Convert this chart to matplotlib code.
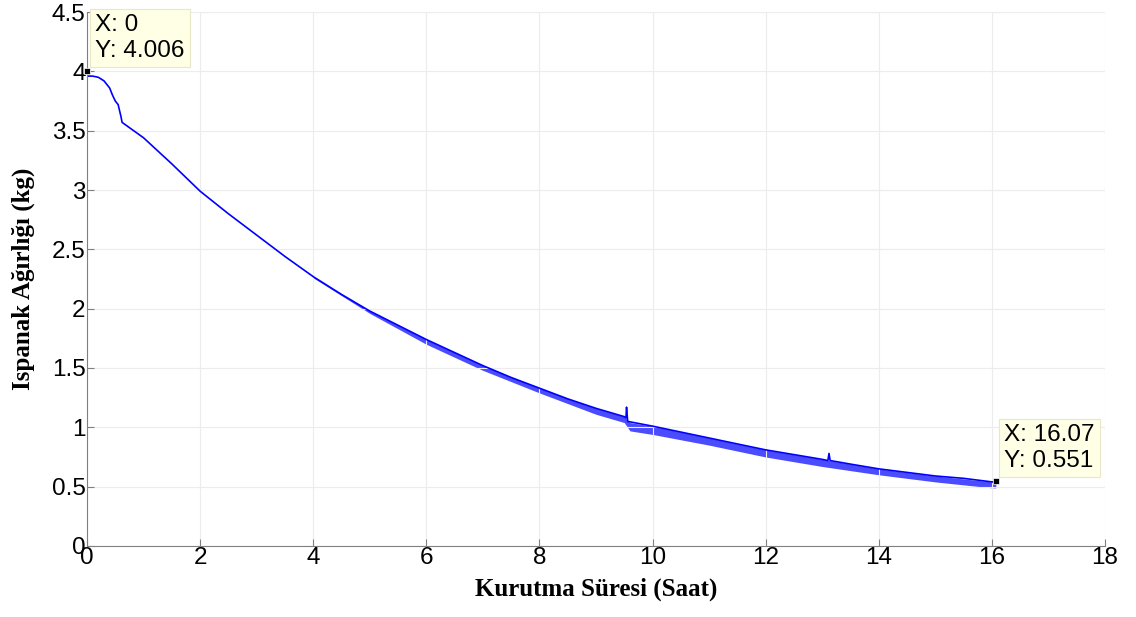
import numpy as np
import matplotlib
matplotlib.use("Agg")
import matplotlib.pyplot as plt

# drying time (hours) and spinach weight (kg)
saat = [0.0, 0.1, 0.2, 0.3, 0.4, 0.45, 0.5, 0.55, 0.57, 0.6, 0.62,
        1.0, 1.5, 2.0, 2.5, 3.0, 3.5, 4.0, 4.5, 5.0, 5.5, 6.0, 6.5,
        7.0, 7.5, 8.0, 8.5, 9.0, 9.5, 9.53, 9.54, 9.56, 10.0, 10.5,
        11.0, 11.5, 12.0, 12.5, 13.0, 13.1, 13.12, 13.14, 13.5, 14.0,
        14.5, 15.0, 15.5, 16.0, 16.07]
agirlik = [3.96, 3.96, 3.95, 3.92, 3.86, 3.80, 3.75, 3.72, 3.68, 3.62, 3.57,
           3.44, 3.22, 2.99, 2.80, 2.62, 2.44, 2.27, 2.12, 1.98, 1.86, 1.74, 1.63,
           1.52, 1.42, 1.33, 1.24, 1.16, 1.09, 1.08, 1.17, 1.05, 1.01, 0.96,
           0.91, 0.86, 0.81, 0.77, 0.73, 0.72, 0.78, 0.72, 0.69, 0.65,
           0.62, 0.59, 0.57, 0.54, 0.54]

# lower edge of the noisy band (downward spikes)
band_x = [4.0, 5.0, 6.0, 7.0, 8.0, 9.0, 9.5, 9.6, 10.0, 11.0, 12.0, 13.0, 14.0, 15.0, 16.0, 16.07]
band_top = [2.27, 1.98, 1.74, 1.52, 1.33, 1.16, 1.09, 1.04, 1.01, 0.91, 0.81, 0.73, 0.65, 0.59, 0.54, 0.54]
band_low = [2.26, 1.96, 1.70, 1.48, 1.29, 1.11, 1.04, 0.97, 0.94, 0.85, 0.75, 0.67, 0.60, 0.54, 0.49, 0.49]

tips = [(0, 4.006), (16.07, 0.551)]
tip_text = ["X: 0\nY: 4.006", "X: 16.07\nY: 0.551"]

fig = plt.figure(figsize=(11.36, 6.17), dpi=100)
ax = fig.add_axes([0.0766, 0.1151, 0.8961, 0.8654])

ax.fill_between(band_x, band_low, band_top, color="#0000ff", alpha=0.7, lw=0)
ax.plot(saat, agirlik, color="#0000ff", lw=1.2)

# data tips
for (tx, ty), txt in zip(tips, tip_text):
    ax.plot(tx, ty, "s", color="black", ms=4.5, mec="white", mew=0.5, zorder=5, clip_on=False)
    ax.annotate(txt, xy=(tx, ty), xytext=(6, 6), textcoords="offset points",
                ha="left", va="bottom", fontsize=17.5, family="Liberation Sans", linespacing=1.25,
                bbox=dict(boxstyle="square,pad=0.2", fc="#ffffe6", ec="#e8e8c8", lw=0.8),
                annotation_clip=False, zorder=6)

ax.set_xlim(0, 18)
ax.set_ylim(0, 4.5)
ax.set_xticks(np.arange(0, 19, 2))
ax.set_yticks(np.arange(0, 4.6, 0.5))
ax.set_yticklabels(["0", "0.5", "1", "1.5", "2", "2.5", "3", "3.5", "4", "4.5"])
ax.tick_params(direction="in", length=5, color="#808080", labelsize=17.5, pad=1)
for lab in ax.get_xticklabels() + ax.get_yticklabels():
    lab.set_family("Liberation Sans")
ax.grid(True, color="#ececec", lw=0.8)
ax.spines["top"].set_visible(False)
ax.spines["right"].set_visible(False)
ax.spines["left"].set_color("#808080")
ax.spines["bottom"].set_color("#808080")

ax.set_xlabel("Kurutma Süresi (Saat)", fontsize=18, fontweight="bold",
              family="Liberation Serif", labelpad=6)
ax.set_ylabel("Ispanak Ağırlığı (kg)", fontsize=18, fontweight="bold",
              family="Liberation Serif", labelpad=12)

fig.savefig("out.png", dpi=100)
